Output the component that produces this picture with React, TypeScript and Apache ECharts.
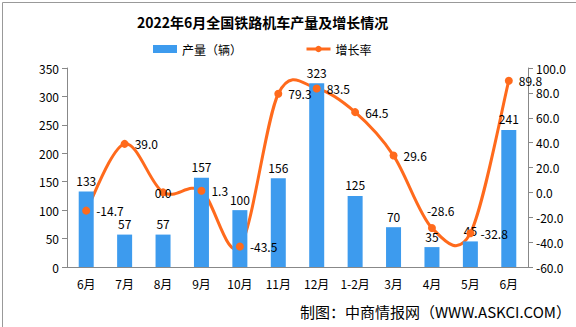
import React, { useEffect, useRef } from "react";
import * as echarts from "echarts";

const categories = ["6月", "7月", "8月", "9月", "10月", "11月", "12月", "1-2月", "3月", "4月", "5月", "6月"];
const production = [133, 57, 57, 157, 100, 156, 323, 125, 70, 35, 45, 241];
const growth = [-14.7, 39.0, 0.0, 1.3, -43.5, 79.3, 83.5, 64.5, 29.6, -28.6, -32.8, 89.8];
const leftTicks = { min: 0, max: 350, interval: 50 };
const rightTicks = { min: -60, max: 100, interval: 20 };

const FONT = "'Noto Sans CJK SC', 'DejaVu Sans', sans-serif";
const LINE_COLOR = "#ff6a1c";

export default function App() {
  const ref = useRef<HTMLDivElement>(null);
  useEffect(() => {
    if (!ref.current) return;
    const chart = echarts.init(ref.current, null, { renderer: "svg" });
    const labelPos = (i: number): any => (i === 2 ? "inside" : i === 9 ? [-1, -19] : "right");

    // Catmull-Rom style smoothing (like spreadsheet smoothed lines), one segment per item
    const renderSegment = (params: any, api: any) => {
      const i = params.dataIndex;
      const n = growth.length;
      if (i >= n - 1) return null;
      const pt = (k: number) => {
        const kk = Math.max(0, Math.min(n - 1, k));
        return api.coord([kk, growth[kk]]);
      };
      const p0 = pt(i - 1);
      const p1 = pt(i);
      const p2 = pt(i + 1);
      const p3 = pt(i + 2);
      const t = 1 / 6;
      const c1 = [p1[0] + (p2[0] - p0[0]) * t, p1[1] + (p2[1] - p0[1]) * t];
      const c2 = [p2[0] - (p3[0] - p1[0]) * t, p2[1] - (p3[1] - p1[1]) * t];
      return {
        type: "path",
        shape: {
          pathData: `M${p1[0]},${p1[1]} C${c1[0]},${c1[1]} ${c2[0]},${c2[1]} ${p2[0]},${p2[1]}`,
        },
        style: { stroke: LINE_COLOR, lineWidth: 3, fill: "none" },
        silent: true,
      };
    };

    chart.setOption({
      animation: false,
      backgroundColor: "#fff",
      textStyle: { fontFamily: FONT },
      title: {
        text: "2022年6月全国铁路机车产量及增长情况",
        left: 132,
        top: 10,
        textStyle: { fontSize: 14, fontWeight: "bold", color: "#000", fontFamily: FONT },
      },
      legend: {
        top: 38,
        left: 148,
        itemGap: 63,
        itemWidth: 24,
        itemHeight: 8,
        textStyle: { fontSize: 12, color: "#000" },
        data: [
          { name: "产量（辆）", icon: "rect" },
          { name: "增长率", lineStyle: { opacity: 1, width: 3, color: LINE_COLOR } },
        ],
      },
      grid: { left: 67, right: 48, top: 68, bottom: 60 },
      xAxis: {
        type: "category",
        data: categories,
        axisLine: { lineStyle: { color: "#888" } },
        axisTick: { alignWithLabel: false, lineStyle: { color: "#888" } },
        axisLabel: { color: "#000", fontSize: 12, margin: 10 },
      },
      yAxis: [
        {
          type: "value",
          ...leftTicks,
          axisLine: { show: true, lineStyle: { color: "#888" } },
          axisTick: { show: true, lineStyle: { color: "#888" } },
          splitLine: { show: false },
          axisLabel: { color: "#000", fontSize: 12 },
        },
        {
          type: "value",
          ...rightTicks,
          axisLine: { show: true, lineStyle: { color: "#888" } },
          axisTick: { show: true, lineStyle: { color: "#888" } },
          splitLine: { show: false },
          axisLabel: { color: "#000", fontSize: 12, formatter: (v: number) => v.toFixed(1) },
        },
      ],
      series: [
        {
          name: "产量（辆）",
          type: "bar",
          data: production,
          barWidth: 15,
          itemStyle: { color: "#3d9bee" },
          label: { show: true, position: "top", color: "#000", fontSize: 12 },
        },
        {
          name: "增长率曲线",
          type: "custom",
          yAxisIndex: 1,
          renderItem: renderSegment,
          data: growth.map((v, i) => [i, v]),
          encode: { x: 0, y: 1 },
          clip: false,
          silent: true,
        },
        {
          name: "增长率",
          type: "line",
          yAxisIndex: 1,
          symbol: "circle",
          symbolSize: 8,
          lineStyle: { color: LINE_COLOR, width: 3, opacity: 0 },
          itemStyle: { color: LINE_COLOR },
          z: 3,
          data: growth.map((v, i) => ({
            value: v,
            label: { position: labelPos(i) },
          })),
          label: {
            show: true,
            color: "#000",
            fontSize: 12,
            distance: 6,
            formatter: (p: any) => Number(p.value).toFixed(1),
          },
        },
      ],
      graphic: [
        {
          type: "rect",
          left: 0,
          top: 0,
          shape: { width: 575, height: 326 },
          style: { fill: "none", stroke: "#999", lineWidth: 1 },
          silent: true,
        },
        {
          type: "text",
          right: 5,
          top: 304,
          style: { text: "制图：中商情报网（WWW.ASKCI.COM）", fill: "#000", fontSize: 15, fontFamily: FONT },
        },
      ],
    });
    return () => chart.dispose();
  }, []);
  return <div ref={ref} style={{ width: 576, height: 327, position: "absolute", left: 0, top: 0 }} />;
}
